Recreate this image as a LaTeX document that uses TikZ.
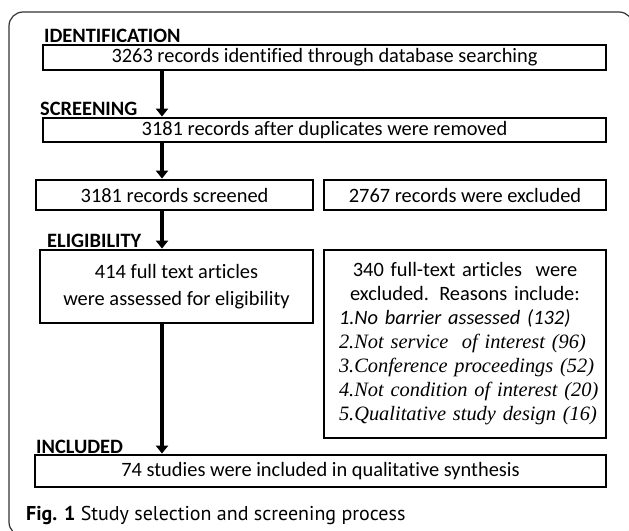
\documentclass[tikz,border=0pt]{standalone}
\usepackage{fontspec}
\setmainfont{Carlito}[Ligatures=NoCommon]
\newfontfamily\capfont{PT Sans}
\newfontfamily\serifit{Liberation Serif}
\usetikzlibrary{arrows.meta}
\begin{document}
\begin{tikzpicture}[x=1pt,y=-1pt,
  box/.style={draw=black, line width=2.8pt, fill=white, inner sep=0pt, font=\fontsize{20.4}{24}\selectfont},
  stage/.style={anchor=base west, inner sep=0pt, font=\bfseries\fontsize{20.4}{24}\selectfont},
  arr/.style={line width=4pt, -{Triangle[width=12pt,length=8pt]}},
  frame/.style={line width=1.2pt, draw=black!80, rounded corners=14pt},
]
\useasboundingbox (0,0) rectangle (629,530);
\begin{scope}
  \clip (0,0) rectangle (629,530);
  \draw[frame] (9,12) rectangle (633,536);
\end{scope}
\coordinate (ax) at (162,0);

\node[stage] (lid) at (44,42) {IDENTIFICATION};
\node[box, minimum width=563pt, minimum height=25pt] (b1) at (324.5,57.5) {3263 records identified through database searching};
\node[stage] (lsc) at (40,115) {SCREENING};
\node[box, minimum width=563pt, minimum height=24pt] (b2) at (324.5,130) {3181 records after duplicates were removed};
\node[box, minimum width=277pt, minimum height=30pt] (b3) at (174.5,195) {3181 records screened};
\node[box, minimum width=282pt, minimum height=30pt] (b3r) at (465,195) {2767 records were excluded};
\node[stage] (lel) at (47,247) {ELIGIBILITY};
\node[box, minimum width=273pt, minimum height=73pt, align=center, font=\fontsize{20.4}{27}\selectfont] (b4) at (176.5,286.5) {414 full text articles\\were assessed for eligibility};
\node[box, minimum width=282pt, minimum height=188pt, text width=252pt, align=left, font=\fontsize{20.4}{24}\selectfont] (b4r) at (465,344) {%
\makebox[252pt][c]{340 full-text articles\ \ were}\\
\makebox[252pt][c]{excluded. Reasons include:}\\
\mbox{\textit{1.No barrier assessed (132)}}\\
\mbox{\serifit\itshape 2.Not service\ \ of interest (96)}\\
\mbox{\serifit\itshape 3.Conference proceedings (52)}\\
\mbox{\serifit\itshape 4.Not condition of interest (20)}\\
\mbox{\serifit\itshape 5.Qualitative study design (16)}};
\node[stage] (lin) at (36,453) {INCLUDED};
\node[box, minimum width=571pt, minimum height=32pt] (b5) at (320.5,471) {74 studies were included in qualitative synthesis};
\node[anchor=base west, inner sep=0pt, font=\capfont\fontsize{20}{24}\selectfont] (cap) at (26,520) {\textbf{Fig. 1} Study selection and screening process};

\draw[arr] (b1.south -| ax) -- (b2.north -| ax);
\draw[arr] (b2.south -| ax) -- (b3.north -| ax);
\draw[arr] (b3.south -| ax) -- (b4.north -| ax);
\draw[arr] (b4.south -| ax) -- (b5.north -| ax);
\end{tikzpicture}
\end{document}
